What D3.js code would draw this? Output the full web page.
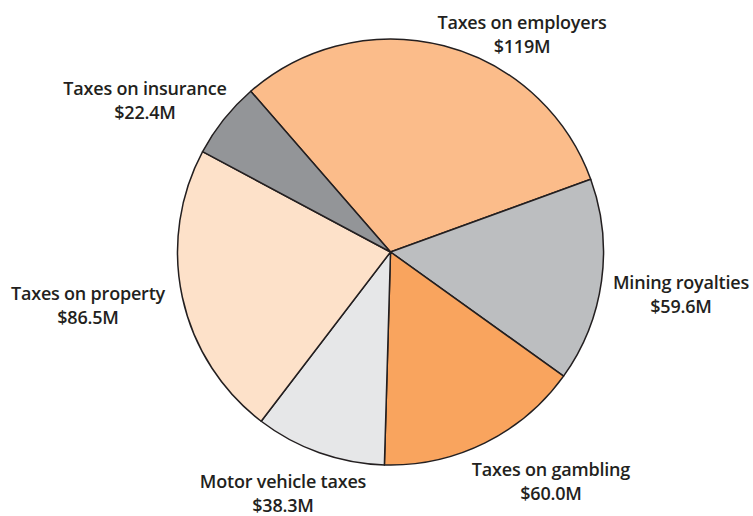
<!DOCTYPE html>
<html>
<head>
<meta charset="utf-8">
<script src="https://cdn.jsdelivr.net/npm/d3@7"></script>
<style>
  html, body { margin: 0; padding: 0; background: #fff; }
  svg text { font-family: "Open Sans", "Noto Sans", sans-serif; font-weight: 600; fill: #231f20; }
</style>
</head>
<body>
<svg id="chart" width="753" height="516"></svg>
<script>
// Revenue sources (millions of dollars), clockwise from the top-left slice boundary
const categories = ["Taxes on employers", "Mining royalties", "Taxes on gambling",
                    "Motor vehicle taxes", "Taxes on property", "Taxes on insurance"];
const values = [119, 59.6, 60.0, 38.3, 86.5, 22.4];
const valueLabels = ["$119M", "$59.6M", "$60.0M", "$38.3M", "$86.5M", "$22.4M"];
const colors = ["#fbbc8a", "#bcbec0", "#f9a45e", "#e6e7e8", "#fde1c9", "#939598"];

// Label anchor points (baseline of the first line of each two-line label)
const labelX = [522, 681, 551, 283, 88, 145];
const labelY = [29, 289, 476, 488, 300, 95];

const width = 753, height = 516;
const cx = 390.5, cy = 252, radius = 213;
const start = -41 * Math.PI / 180;

const svg = d3.select("#chart");
const g = svg.append("g").attr("transform", `translate(${cx},${cy})`);

const pie = d3.pie().sort(null).value(d => d)
  .startAngle(start).endAngle(start + 2 * Math.PI);
const arc = d3.arc().innerRadius(0).outerRadius(radius);

g.selectAll("path.slice")
  .data(pie(values))
  .join("path")
  .attr("class", "slice")
  .attr("d", arc)
  .attr("fill", (d, i) => colors[i])
  .attr("stroke", "#231f20")
  .attr("stroke-width", 1.5)
  .attr("stroke-linejoin", "round");

const labels = svg.selectAll("g.label")
  .data(categories)
  .join("g")
  .attr("class", "label")
  .attr("transform", (d, i) => `translate(${labelX[i]},${labelY[i]})`);

labels.append("text")
  .attr("text-anchor", "middle")
  .attr("font-size", 18)
  .attr("letter-spacing", -0.2)
  .text(d => d);

labels.append("text")
  .attr("text-anchor", "middle")
  .attr("font-size", 18)
  .attr("letter-spacing", -0.2)
  .attr("y", 23.5)
  .text((d, i) => valueLabels[i]);
</script>
</body>
</html>
